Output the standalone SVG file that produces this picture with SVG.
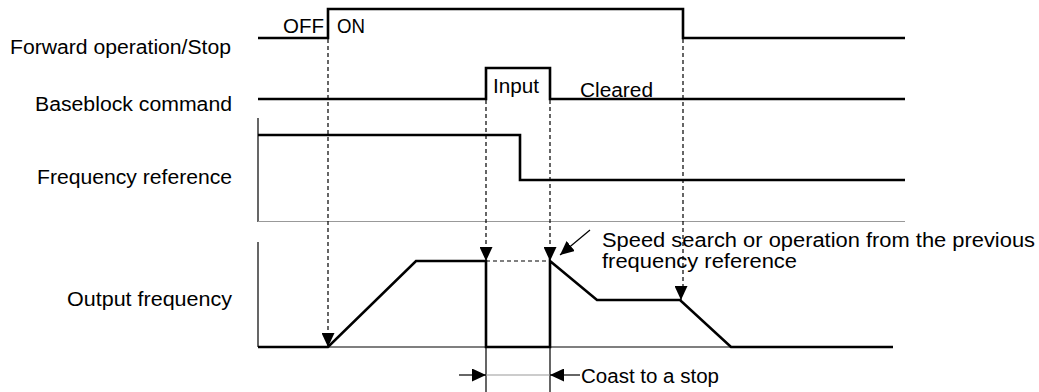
<svg xmlns="http://www.w3.org/2000/svg" width="1039" height="392" viewBox="0 0 1039 392">
<defs>
<marker id="ah" viewBox="0 0 14 13" refX="14" refY="6.5" markerWidth="14" markerHeight="13" markerUnits="userSpaceOnUse" orient="auto">
<path d="M0,0 L14,6.5 L0,13 Z" fill="#000"/>
</marker>
</defs>
<style>
text{font-family:"Liberation Sans",Arial,sans-serif;font-size:20px;fill:#000}
.lbl{text-anchor:end}
.sig{fill:none;stroke:#000;stroke-width:2.6;stroke-linejoin:miter}
.thin{fill:none;stroke:#000;stroke-width:1.2}
.faint{fill:none;stroke:#999;stroke-width:1}
.dash{fill:none;stroke:#000;stroke-width:1.2;stroke-dasharray:4 3}
.arr{fill:none;stroke:#000;stroke-width:1.2}
</style>
<rect width="1039" height="392" fill="#fff"/>

<g id="labels">
<text class="lbl" x="231" y="54" textLength="221" lengthAdjust="spacingAndGlyphs">Forward operation/Stop</text>
<text class="lbl" x="232" y="111" textLength="197" lengthAdjust="spacingAndGlyphs">Baseblock command</text>
<text class="lbl" x="232" y="184" textLength="195" lengthAdjust="spacingAndGlyphs">Frequency reference</text>
<text class="lbl" x="232" y="306" textLength="165" lengthAdjust="spacingAndGlyphs">Output frequency</text>
</g>

<g id="forward">
<path class="sig" d="M258,38 H328 V9 H683 V38 H905"/>
<text x="283" y="33" textLength="41" lengthAdjust="spacingAndGlyphs">OFF</text>
<text x="337" y="33" textLength="28" lengthAdjust="spacingAndGlyphs">ON</text>
</g>

<g id="baseblock">
<path class="sig" d="M258,99 H486 V68 H550 V99 H905"/>
<text x="493" y="93" textLength="46" lengthAdjust="spacingAndGlyphs">Input</text>
<text x="580" y="97" textLength="73" lengthAdjust="spacingAndGlyphs">Cleared</text>
</g>

<g id="freqref">
<path class="thin" d="M258,118 V222"/>
<path class="faint" d="M258,221.5 H905"/>
<path class="sig" d="M258,135 H520 V180 H905"/>
</g>

<g id="outfreq">
<path class="thin" d="M258,242 V347"/>
<path class="thin" d="M258,347 H893"/>
<path class="sig" d="M258,347 H328 L416,261 H486 V347 H550 V261 L597,300 H680 L731,347 H893"/>
<path class="dash" d="M486,261 H550"/>
</g>

<g id="connectors">
<path class="dash" d="M328,39 V335"/>
<path class="dash" d="M486,100 V249"/>
<path class="dash" d="M550,100 V249"/>
<path class="dash" d="M683,39 V288"/>
<path class="arr" d="M328,333 V347" marker-end="url(#ah)"/>
<path class="arr" d="M486,247 V261" marker-end="url(#ah)"/>
<path class="arr" d="M550,247 V261" marker-end="url(#ah)"/>
<path class="arr" d="M681,286 V300" marker-end="url(#ah)"/>
<path class="arr" d="M590,230 L560,255" marker-end="url(#ah)"/>
<path class="thin" d="M486,347 V392 M550,347 V392"/>
<path class="faint" d="M486,375 H550"/>
<path class="arr" d="M459,375 H486" marker-end="url(#ah)"/>
<path class="arr" d="M580,375 H550" marker-end="url(#ah)"/>
</g>

<g id="notes">
<text x="602" y="247" textLength="433" lengthAdjust="spacingAndGlyphs">Speed search or operation from the previous</text>
<text x="602" y="268" textLength="195" lengthAdjust="spacingAndGlyphs">frequency reference</text>
<text x="581" y="383" textLength="138" lengthAdjust="spacingAndGlyphs">Coast to a stop</text>
</g>
</svg>
